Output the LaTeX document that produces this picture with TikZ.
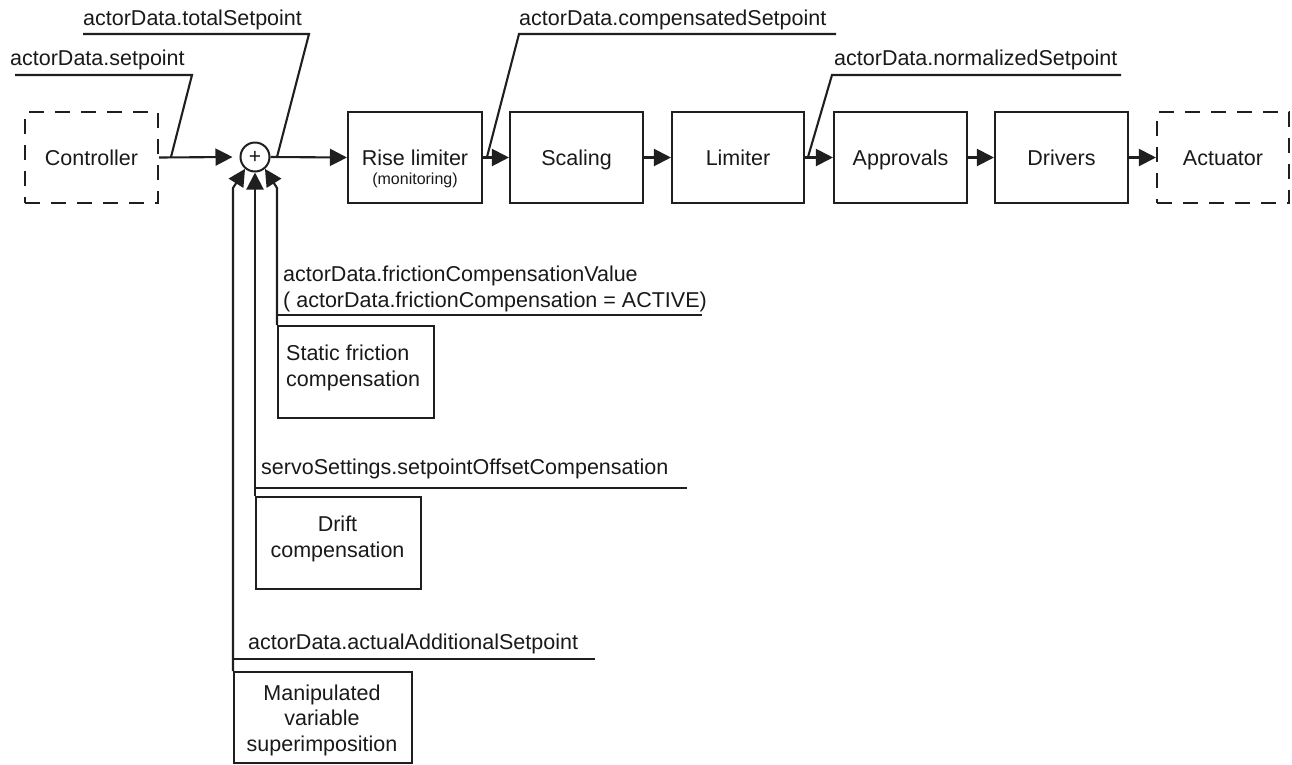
\documentclass[tikz,border=0pt]{standalone}
\usepackage{fontspec}
\setmainfont{Liberation Sans}
\usetikzlibrary{arrows.meta,calc}

\begin{document}
\begin{tikzpicture}[x=1pt,y=-1pt,
  every node/.style={font=\fontsize{21.5}{26}\selectfont, text=black!90},
  wire/.style={line width=2.1pt, draw=black!88},
  arr/.style={wire, -{Triangle[length=17pt,width=17pt]}},
  block/.style={draw=black!88, line width=2.1pt, inner sep=0pt,
    minimum height=91pt, text height=15.5pt, text depth=0pt},
  ext/.style={block, dash pattern=on 15pt off 11pt},
  sidebox/.style={draw=black!88, line width=2.1pt, inner sep=0pt, anchor=north west},
  lbl/.style={anchor=base west, inner sep=0pt},
  txt/.style={anchor=base, inner sep=0pt}]

\path[use as bounding box] (0,0) rectangle (1292,764);

% main signal chain
\node[ext,   minimum width=133pt] (ctrl) at (91.5,157.5)  {Controller};
\node[draw=black!88, line width=2pt, circle, minimum size=29pt, inner sep=0pt,
      font=\fontsize{21}{21}\selectfont] (sum) at (255,157) {+};
\node[block, minimum width=134pt] (rise) at (415,157.5) {};
\node[txt] (risea) at (415,165) {Rise limiter};
\node[txt, font=\fontsize{16}{18}\selectfont] (riseb) at (415,184) {(monitoring)};
\node[block, minimum width=133pt] (scal) at (576.5,157.5) {Scaling};
\node[block, minimum width=132pt] (lim)  at (738,157.5)   {Limiter};
\node[block, minimum width=133pt] (appr) at (900.5,157.5) {Approvals};
\node[block, minimum width=133pt] (drv)  at (1061.5,157.5){Drivers};
\node[ext,   minimum width=132pt] (act)  at (1223,157.5)  {Actuator};

\draw[arr] (ctrl.east) -- ([xshift=-7pt]sum.west);
\draw[arr] (sum.east) -- (rise.west);
\draw[arr] (rise.east) -- (scal.west);
\draw[arr] (scal.east) -- (lim.west);
\draw[arr] (lim.east) -- (appr.west);
\draw[arr] (appr.east) -- (drv.west);
\draw[arr] (drv.east) -- (act.west);

% signal names along the chain
\coordinate (tapsp)  at (171,157);
\coordinate (taptot) at (277,157);
\coordinate (tapcmp) at (487,157);
\coordinate (tapnrm) at (808,157);

\node[lbl] (lsp)  at (10,65)  {actorData.setpoint};
\draw[wire] (15,75) -- (192,75) -- (tapsp);
\node[lbl] (ltot) at (83,25)  {actorData.totalSetpoint};
\draw[wire] (83,34) -- (309,34) -- (taptot);
\node[lbl] (lcmp) at (519,25) {actorData.compensatedSetpoint};
\draw[wire] (836,34) -- (519,34) -- (tapcmp);
\node[lbl] (lnrm) at (834,65) {actorData.normalizedSetpoint};
\draw[wire] (1121,75) -- (832,75) -- (tapnrm);

% additive corrections
\node[sidebox, minimum width=156pt, minimum height=92pt] (sf) at (277,325) {};
\node[lbl] (sfa) at (286,360) {Static friction};
\node[lbl] (sfb) at (286,386) {compensation};

\node[sidebox, minimum width=165pt, minimum height=92pt] (dr) at (255,496) {};
\node[txt] (dra) at (337.5,531) {Drift};
\node[txt] (drb) at (337.5,557) {compensation};

\node[sidebox, minimum width=178pt, minimum height=91pt] (mv) at (233,671) {};
\node[txt] (mva) at (322,700) {Manipulated};
\node[txt] (mvb) at (322,725) {variable};
\node[txt] (mvc) at (322,751) {superimposition};

\draw[arr] (sf.north west) -- (277,188) -- (sum.-50);
\draw[arr] (dr.north west) -- (sum.south);
\draw[arr] (mv.north west) -- (233,188) -- (sum.-130);

\node[lbl] (lsf1) at (283,281) {actorData.frictionCompensationValue};
\node[lbl] (lsf2) at (283,307) {( actorData.frictionCompensation = ACTIVE)};
\draw[wire] (277,315) -- (702,315);

\node[lbl] (ldr) at (261,474) {servoSettings.setpointOffsetCompensation};
\draw[wire] (255,488) -- (687,488);

\node[lbl] (lmv) at (248,649) {actorData.actualAdditionalSetpoint};
\draw[wire] (233,659) -- (595,659);

\end{tikzpicture}
\end{document}
